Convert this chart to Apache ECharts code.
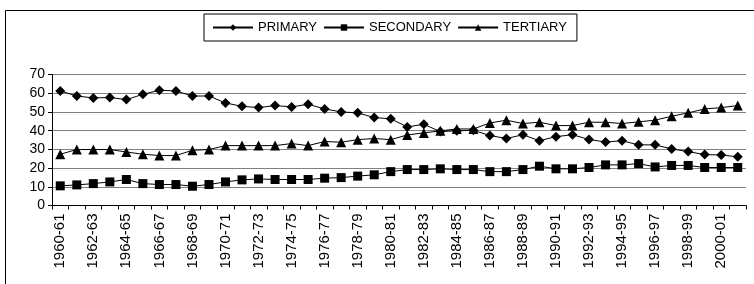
<!DOCTYPE html>
<html>
<head>
<meta charset="utf-8">
<script src="https://cdn.jsdelivr.net/npm/echarts@6/dist/echarts.min.js"></script>
<style>
  html, body { margin: 0; padding: 0; background: #fff; }
  #chart { width: 754px; height: 284px; }
</style>
</head>
<body>
<div id="chart"></div>
<script>
// academic years 1960-61 .. 2001-02
const years = []
for (let y = 1960; y <= 2001; y++) {
  years.push(y + '-' + String((y + 1) % 100).padStart(2, '0'))
}

const primary = [61.2, 58.5, 57.5, 57.7, 56.6, 59.4, 61.6, 61.2, 58.5, 58.5,
  54.8, 53, 52.3, 53.4, 52.7, 54.1, 51.6, 50, 49.5, 47,
  46.3, 42, 43.4, 39.5, 39.9, 40.2, 37.4, 35.8, 37.8, 34.6,
  36.8, 37.8, 35.3, 33.9, 34.6, 32.4, 32.4, 30.2, 28.8, 27.2,
  27, 26]
const secondary = [10.5, 11, 11.7, 12.6, 13.9, 11.7, 11.2, 11.2, 10.3, 11.2,
  12.6, 13.7, 14.2, 13.9, 13.9, 13.9, 14.6, 14.9, 15.7, 16.4,
  18.1, 19.2, 19.2, 19.6, 19.2, 19.2, 18.1, 18.1, 19.2, 21,
  19.6, 19.6, 20.3, 21.7, 21.7, 22.4, 20.6, 21.4, 21.4, 20.3,
  20.3, 20.3]
const tertiary = [27.4, 29.9, 29.9, 29.9, 28.6, 27.4, 26.7, 26.7, 29.5, 29.9,
  32, 32, 32, 32, 33.1, 32, 34.2, 33.8, 35.2, 35.8,
  35.2, 37.7, 38.8, 39.9, 40.9, 40.9, 44.1, 45.6, 43.8, 44.5,
  42.7, 42.7, 44.5, 44.5, 43.8, 44.7, 45.6, 47.7, 49.5, 51.6,
  52.3, 53.4]

const font = 'Liberation Sans, Arial, sans-serif'
const diamond = 'path://M0,-1L1,0L0,1L-1,0Z'

function makeSeries(name, data, symbol, size) {
  return {
    name: name,
    type: 'line',
    data: data,
    symbol: symbol,
    symbolSize: size,
    showAllSymbol: true,
    lineStyle: { color: '#000', width: 1 },
    itemStyle: { color: '#000', borderWidth: 0 }
  }
}

const chart = echarts.init(document.getElementById('chart'))
chart.setOption({
  animation: false,
  graphic: [
    {
      type: 'rect',
      shape: { x: 5.5, y: 10.5, width: 800, height: 400 },
      style: { fill: 'none', stroke: '#000', lineWidth: 1 },
      silent: true,
      z: -1
    }
  ],
  legend: {
    left: 204,
    top: 14,
    borderColor: '#000',
    borderWidth: 1,
    padding: [7, 10, 7, 8],
    itemGap: 6,
    itemWidth: 40,
    itemHeight: 8,
    textStyle: { fontFamily: font, fontSize: 13, color: '#000' },
    data: ['PRIMARY', 'SECONDARY', 'TERTIARY']
  },
  grid: { left: 52, right: 8, top: 74.5, bottom: 78.5 },
  xAxis: {
    type: 'category',
    data: years,
    boundaryGap: true,
    axisLine: { lineStyle: { color: '#000', width: 1 } },
    axisTick: { show: true, interval: 0, length: 4, lineStyle: { color: '#000' } },
    axisLabel: {
      interval: 1,
      rotate: 90,
      margin: 8,
      fontFamily: font,
      fontSize: 15,
      color: '#000'
    },
    splitLine: { show: false }
  },
  yAxis: {
    type: 'value',
    min: 0,
    max: 70,
    interval: 10,
    axisLine: { show: true, lineStyle: { color: '#000', width: 1 } },
    axisTick: { show: true, length: 4, lineStyle: { color: '#000' } },
    axisLabel: { fontFamily: font, fontSize: 14, color: '#000', margin: 7 },
    splitLine: { lineStyle: { color: '#808080', width: 1 } }
  },
  series: [
    makeSeries('PRIMARY', primary, diamond, [10, 10]),
    makeSeries('SECONDARY', secondary, 'rect', 9),
    makeSeries('TERTIARY', tertiary, 'triangle', 10)
  ]
})
</script>
</body>
</html>
